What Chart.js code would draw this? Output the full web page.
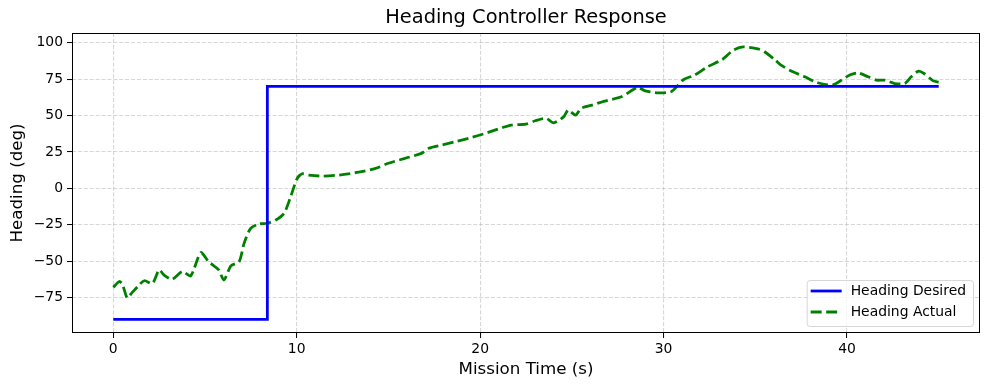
<!DOCTYPE html>
<html>
<head>
<meta charset="utf-8">
<title>Heading Controller Response</title>
<script src="https://cdn.jsdelivr.net/npm/chart.js@4.4.1/dist/chart.umd.min.js"></script>
<style>
  body { margin: 0; background: #fff; }
  canvas { display: block; }
</style>
</head>
<body>
<canvas id="myChart" width="989" height="390"></canvas>
<script>
// desired heading (step)
const desiredTime = [0, 8.4, 8.4, 45];
const desiredHeading = [-90, -90, 70, 70];

// actual heading
const actualTime = [0, 0.33, 0.5, 0.76, 1.0, 1.33, 1.69, 2.14, 2.5, 2.76, 3.2, 3.77, 4.22, 4.77, 5.2, 5.75, 6.03, 6.41, 6.86, 7.13,
  7.49, 7.94, 8.4, 8.86, 9.31, 9.67, 10.03, 10.3, 10.66, 11.4, 12.3, 13.2, 14.3, 15.0, 15.9, 16.8, 17.2, 17.9, 18.65, 19.56,
  20.4, 20.8, 21.7, 22.5, 23.0, 23.6, 24.0, 24.55, 24.8, 25.2, 25.5, 26.1, 26.8, 27.7, 28.3, 28.6, 29.0, 29.7, 30.4, 30.8,
  31.1, 31.7, 32.4, 33.2, 33.8, 34.35, 35.2, 35.5, 36.1, 36.4, 37.05, 37.7, 38.4, 39.2, 39.7, 40.15, 40.6, 41.15, 41.6, 42.06,
  42.6, 43.15, 43.5, 43.9, 44.2, 44.7, 45];
const actualHeading = [-68, -64, -66, -75.3, -72, -67.5, -63.5, -65.3, -56, -59.5, -62.5, -57.2, -60.2, -44.2, -50.4, -56, -63, -53.3, -50.4, -37.8,
  -27.5, -24.5, -24, -21.8, -17.2, -5.8, 6.9, 10, 9.1, 8.4, 9.1, 10.7, 13.7, 17.2, 20.6, 24, 27.5, 29.7, 32, 35,
  38.2, 40, 43.4, 44.1, 46.4, 48, 45, 49.1, 53.7, 50.3, 54.9, 57.2, 59.9, 62.9, 67.5, 69.3, 67, 65.6, 66.3, 70.9,
  74.8, 77.8, 83.5, 88.5, 94.9, 97.2, 95.6, 93.8, 88, 84.6, 80, 76.6, 72.5, 70.9, 74.3, 77.8, 79.3, 76.6, 74.3, 74.3,
  72, 72, 76.6, 80.5, 78.9, 73.8, 73];

const xTicks = [0, 10, 20, 30, 40];
const yTicks = [-75, -50, -25, 0, 25, 50, 75, 100];
const chartTitle = 'Heading Controller Response';

const FONT = "'DejaVu Sans', sans-serif";
const gridColor = 'rgba(176,176,176,0.5)';

const toPoints = (xs, ys) => xs.map((x, i) => ({ x: x, y: ys[i] }));
const fmt = v => String(v).replace('-', '\u2212');

// title centred over the plot area (matplotlib style), plus black frame on all four sides
const framePlugin = {
  id: 'frame',
  afterDatasetsDraw(chart) {
    const a = chart.chartArea;
    const c = chart.ctx;
    c.save();
    c.strokeStyle = '#000';
    c.lineWidth = 1;
    c.strokeRect(Math.round(a.left) + 0.5, Math.round(a.top) + 0.5,
      Math.round(a.right - a.left) - 1, Math.round(a.bottom - a.top) - 1);
    c.fillStyle = '#000';
    c.font = '19.4px ' + FONT;
    c.textAlign = 'center';
    c.textBaseline = 'middle';
    c.fillText(chartTitle, (a.left + a.right) / 2, 18);
    c.restore();
  }
};

// legend box in the lower right corner of the plot
const legendPlugin = {
  id: 'boxLegend',
  afterDraw(chart) {
    const a = chart.chartArea;
    const c = chart.ctx;
    const sets = chart.data.datasets;
    c.save();
    c.font = '13.9px ' + FONT;
    const textW = Math.max(...sets.map(d => c.measureText(d.label).width));
    const right = a.right - 7;
    const bottom = a.bottom - 7;
    const w = 4 + 31 + 9 + textW + 7;
    const h = 46;
    const left = right - w;
    const top = bottom - h;
    c.beginPath();
    c.roundRect(left + 0.5, top + 0.5, w, h, 3);
    c.fillStyle = 'rgba(255,255,255,0.8)';
    c.fill();
    c.strokeStyle = 'rgba(204,204,204,0.8)';
    c.lineWidth = 1;
    c.stroke();
    sets.forEach((d, i) => {
      const y = top + 11 + i * 21;
      c.beginPath();
      c.setLineDash(d.borderDash || []);
      c.strokeStyle = d.borderColor;
      c.lineWidth = d.borderWidth;
      c.moveTo(left + 4, y);
      c.lineTo(left + 35, y);
      c.stroke();
      c.setLineDash([]);
      c.fillStyle = '#000';
      c.textBaseline = 'middle';
      c.textAlign = 'left';
      c.fillText(d.label, left + 44, y);
    });
    c.restore();
  }
};

const ctx = document.getElementById('myChart');

const myChart = new Chart(ctx, {
  type: 'line',
  data: {
    datasets: [{
      label: 'Heading Desired',
      data: toPoints(desiredTime, desiredHeading),
      borderColor: '#0000ff',
      borderWidth: 2.8,
      pointRadius: 0,
      tension: 0
    }, {
      label: 'Heading Actual',
      data: toPoints(actualTime, actualHeading),
      borderColor: '#008000',
      borderWidth: 2.8,
      borderDash: [11, 4.5],
      pointRadius: 0,
      tension: 0.25
    }]
  },
  options: {
    responsive: false,
    animation: false,
    events: [],
    layout: { padding: { left: 0, right: 9, top: 33, bottom: 0 } },
    plugins: {
      legend: { display: false },
      tooltip: { enabled: false },
      title: { display: false }
    },
    scales: {
      x: {
        type: 'linear',
        min: -2.25,
        max: 47.25,
        afterFit: s => { s.height = 57; },
        afterBuildTicks: s => { s.ticks = xTicks.map(v => ({ value: v })); },
        ticks: {
          color: '#000',
          font: { family: FONT, size: 13.9 },
          padding: 3,
          maxRotation: 0,
          callback: v => fmt(v)
        },
        grid: {
          color: gridColor,
          lineWidth: 1.1,
          tickColor: '#000',
          tickLength: 5,
          tickWidth: 1,
          tickBorderDash: []
        },
        border: { display: false, dash: [4.1, 1.8] },
        title: {
          display: true,
          text: 'Mission Time (s)',
          color: '#000',
          font: { family: FONT, size: 16.7 },
          padding: { top: 0, bottom: 10 }
        }
      },
      y: {
        min: -99.4,
        max: 106.7,
        afterFit: s => { s.width = 72; },
        afterBuildTicks: s => { s.ticks = yTicks.map(v => ({ value: v })); },
        ticks: {
          color: '#000',
          font: { family: FONT, size: 13.9 },
          padding: 4,
          callback: v => fmt(v)
        },
        grid: {
          color: gridColor,
          lineWidth: 1.1,
          tickColor: '#000',
          tickLength: 5,
          tickWidth: 1,
          tickBorderDash: []
        },
        border: { display: false, dash: [4.1, 1.8] },
        title: {
          display: true,
          text: 'Heading (deg)',
          color: '#000',
          font: { family: FONT, size: 16.7 },
          padding: { top: 8, bottom: 0 }
        }
      }
    }
  },
  plugins: [framePlugin, legendPlugin]
});
</script>
</body>
</html>
